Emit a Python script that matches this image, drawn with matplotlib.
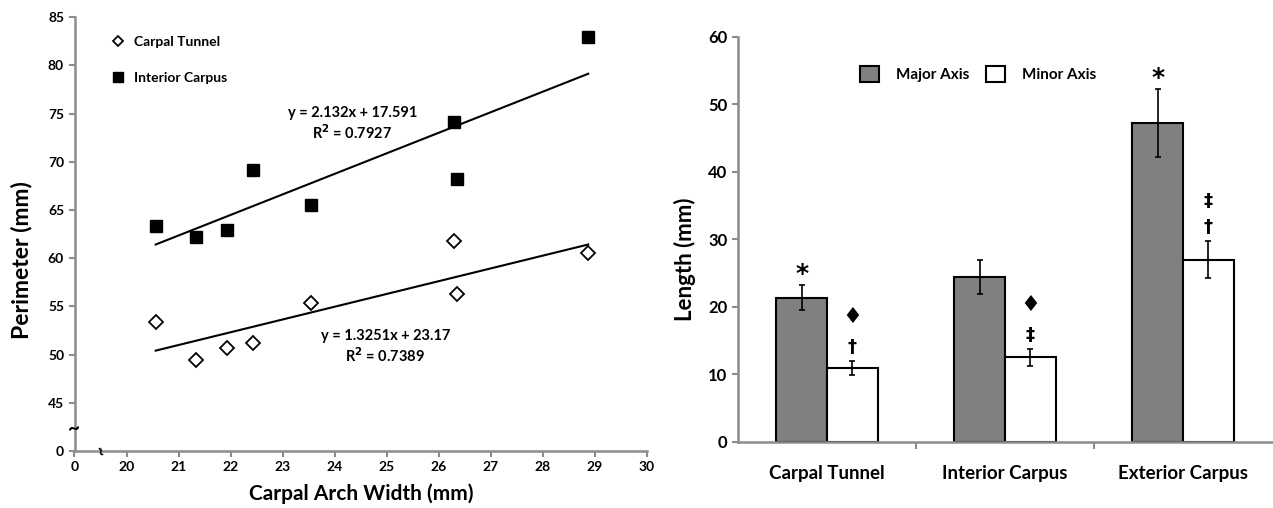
import matplotlib
matplotlib.use("Agg")
import matplotlib.pyplot as plt
import numpy as np
from matplotlib.lines import Line2D
from matplotlib.patches import Patch

plt.rcParams['font.family'] = ['Lato', 'DejaVu Sans']
plt.rcParams['font.weight'] = 'bold'

# left panel: perimeter vs carpal arch width
arch_width = [20.56, 21.33, 21.93, 22.43, 23.55, 26.29, 26.35, 28.87]
tunnel_perim = [53.4, 49.4, 50.7, 51.25, 55.35, 61.8, 56.25, 60.5]
interior_perim = [63.3, 62.2, 62.95, 69.2, 65.55, 74.1, 68.2, 83.0]
tunnel_fit = (1.3251, 23.17)
interior_fit = (2.132, 17.591)
tunnel_eq = "y = 1.3251x + 23.17\nR$^{2}$ = 0.7389"
interior_eq = "y = 2.132x + 17.591\nR$^{2}$ = 0.7927"

# right panel: axis lengths
groups = ["Carpal Tunnel", "Interior Carpus", "Exterior Carpus"]
major_len = [21.3, 24.4, 47.2]
major_err = [1.85, 2.45, 5.0]
minor_len = [10.9, 12.5, 26.95]
minor_err = [1.05, 1.3, 2.75]
major_marks = ["*", "", "*"]
minor_marks = [["\u2020", "\u2666"], ["\u2021", "\u2666"], ["\u2020", "\u2021"]]

grey = "#8c8c8c"
W, H = 1273, 508
fig = plt.figure(figsize=(W / 100, H / 100), dpi=100)

# ---------------- left: scatter with broken axes ----------------
ax = fig.add_axes([74.5 / W, (H - 451) / H, (647 - 74.5) / W, (451 - 17.3) / H])
ax.plot(arch_width, interior_perim, ls="none", marker="s", ms=8.5, mfc="black", mec="black")
ax.plot(arch_width, tunnel_perim, ls="none", marker="D", ms=7.5, mfc="white", mec="black", mew=1.3)
xs = np.array([min(arch_width), max(arch_width)])
ax.plot(xs, interior_fit[0] * xs + interior_fit[1], color="black", lw=1.5)
ax.plot(xs, tunnel_fit[0] * xs + tunnel_fit[1], color="black", lw=1.5)

ax.set_xlim(19, 30)
ax.set_ylim(40, 85)
ax.set_xticks(np.arange(19, 31))
ax.set_xticklabels(["0"] + [str(v) for v in range(20, 31)])
ax.set_yticks(np.arange(40, 86, 5))
ax.set_yticklabels(["0"] + [str(v) for v in range(45, 86, 5)])
for s in ["top", "right"]:
    ax.spines[s].set_visible(False)
for s in ["left", "bottom"]:
    ax.spines[s].set_color(grey)
    ax.spines[s].set_linewidth(1.8)
ax.tick_params(colors=grey, width=1.5, length=4, labelsize=10, labelcolor="black")
ax.set_xlabel("Carpal Arch Width (mm)", fontsize=15, fontweight="bold")
ax.xaxis.set_label_coords(0.5, -0.075)
ax.set_ylabel("Perimeter (mm)", fontsize=16.5, fontweight="bold")
ax.yaxis.set_label_coords(-0.073, 0.44)

# break symbols
ax.text(19, 42.2, "~", fontsize=15, ha="center", va="center", clip_on=False)
ax.text(19.5, 40, "~", fontsize=12, ha="center", va="center", rotation=100, clip_on=False)

ax.text(24.34, 73.9, interior_eq, fontsize=10.5, ha="center", va="center", linespacing=1.2)
ax.text(24.97, 50.8, tunnel_eq, fontsize=10.5, ha="center", va="center", linespacing=1.2)

h1 = [Line2D([], [], ls="none", marker="D", ms=5.5, mfc="white", mec="black", mew=1.3),
      Line2D([], [], ls="none", marker="s", ms=6.5, mfc="black", mec="black")]
ax.legend(h1, ["Carpal Tunnel", "Interior Carpus"], frameon=False, fontsize=10,
          loc="upper left", bbox_to_anchor=(110 / W, (H - 36) / H), bbox_transform=fig.transFigure,
          borderpad=0, borderaxespad=0, handlelength=1.2, handletextpad=0.5, labelspacing=1.75)

# ---------------- right: bar chart ----------------
bx = fig.add_axes([738 / W, (H - 441.7) / H, (1272 - 738) / W, (441.7 - 36.7) / H])
x = np.arange(len(groups))
bw = 0.285
ek = dict(ecolor="black", elinewidth=1.2, capsize=2.5, capthick=1.2)
b1 = bx.bar(x - bw / 2, major_len, bw, yerr=major_err, color="#808080", edgecolor="black", lw=1.5,
            error_kw=ek, label="Major Axis")
b2 = bx.bar(x + bw / 2, minor_len, bw, yerr=minor_err, color="white", edgecolor="black", lw=1.5,
            error_kw=ek, label="Minor Axis")

for i in range(len(groups)):
    if major_marks[i]:
        bx.annotate(major_marks[i], (x[i] - bw / 2, major_len[i] + major_err[i]),
                    xytext=(0, -0.5), textcoords="offset points", ha="center", va="bottom",
                    fontsize=18, family=["DejaVu Sans"])
    lo, hi = minor_marks[i]
    bx.annotate(lo, (x[i] + bw / 2, minor_len[i] + minor_err[i]), xytext=(0, 10),
                textcoords="offset points", ha="center", va="center", fontsize=13,
                family=["DejaVu Sans"])
    diamond = hi == "\u2666"
    bx.annotate(hi, (x[i] + bw / 2, minor_len[i] + minor_err[i]),
                xytext=(0, 31.5 if diamond else 29),
                textcoords="offset points", ha="center", va="center",
                fontsize=16 if diamond else 13, family=["DejaVu Sans"])

bx.set_xlim(-0.5, 2.5)
bx.set_ylim(0, 60)
bx.set_yticks(np.arange(0, 61, 10))
bx.set_xticks(x)
bx.set_xticklabels(groups, fontsize=13.5, fontweight="bold")
bx.set_xticks([0.5, 1.5], minor=True)
bx.tick_params(axis="x", which="major", length=0, pad=17)
bx.tick_params(axis="x", which="minor", length=5, width=1.5, color=grey)
bx.tick_params(axis="y", colors=grey, width=1.5, length=4, labelsize=12, labelcolor="black")
for s in ["top", "right"]:
    bx.spines[s].set_visible(False)
for s in ["left", "bottom"]:
    bx.spines[s].set_color(grey)
    bx.spines[s].set_linewidth(1.8)
bx.set_ylabel("Length (mm)", fontsize=16, fontweight="bold")
bx.yaxis.set_label_coords(-0.078, 0.45)

bx.legend(handles=[Patch(facecolor="#808080", edgecolor="black", lw=1.5),
                   Patch(facecolor="white", edgecolor="black", lw=1.5)],
          labels=["Major Axis", "Minor Axis"], ncol=2, frameon=False, fontsize=11,
          loc="center left", bbox_to_anchor=(860 / W, (H - 74) / H), bbox_transform=fig.transFigure,
          borderpad=0, borderaxespad=0, handlelength=1.25, handleheight=1.25,
          handletextpad=1.1, columnspacing=1.1)

fig.savefig("out.png", dpi=100)
